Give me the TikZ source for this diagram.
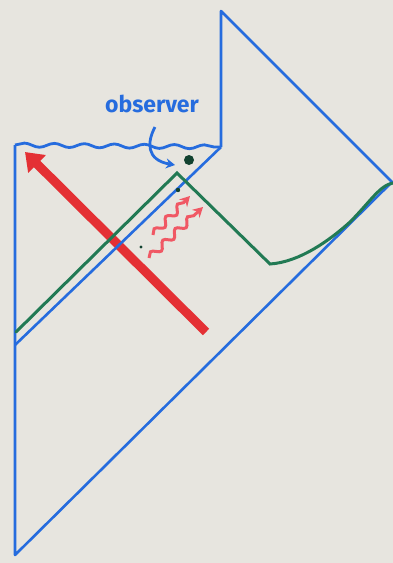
\documentclass[tikz,border=0pt]{standalone}
\usepackage{fontspec}
\setsansfont{Fira Sans}
\usepackage{tikz}
\usetikzlibrary{arrows.meta,positioning,decorations.pathmorphing}
\definecolor{paper}{RGB}{231,229,223}
\definecolor{ink}{RGB}{38,108,222}
\definecolor{leaf}{RGB}{34,122,84}
\definecolor{leafdark}{RGB}{18,66,48}
\definecolor{fire}{RGB}{228,48,52}
\definecolor{glow}{RGB}{240,88,100}
\tikzset{
  border/.style={draw=ink, line width=2.6pt, line join=round},
  wavy/.style={draw=ink, line width=2.8pt,
    decorate, decoration={snake, amplitude=2pt, segment length=30pt}},
  shell/.style={draw=leaf, line width=3pt, line cap=round},
  infall/.style={draw=fire, line width=9pt,
    -{Triangle[length=17pt,width=24pt]}},
  signal/.style={draw=glow, line width=3pt, -{Stealth[length=10pt,width=11pt]},
    decorate, decoration={snake, amplitude=3.5pt, segment length=17pt, post length=9pt}},
  pointer/.style={draw=ink, line width=2.8pt, -{Stealth[length=9pt,width=10pt]}},
  lbl/.style={text=ink, font=\sffamily\bfseries\fontsize{23}{23}\selectfont, inner sep=0pt}
}
\begin{document}
\begin{tikzpicture}[x=1pt, y=-1pt]
\fill[paper] (0,0) rectangle (393,563);
\useasboundingbox (0,0) rectangle (393,563);
% corners of the diagram
\coordinate (tl) at (15,145);
\coordinate (step) at (221,147);
\coordinate (top) at (221,11);
\coordinate (right) at (392,182);
\coordinate (bot) at (15,555);
\coordinate (mid) at (15,345);
% infalling matter
\draw[infall] (206,332) -- (25,152);
% outline
\draw[wavy] (tl) -- (step);
\draw[border] (step) -- (top) -- (right) -- (bot) -- (tl);
\draw[border] (step) -- (mid);
% shell
\coordinate (g0) at (16,332);
\coordinate (gtop) at (177,173);
\coordinate (gbot) at (270,264);
\coordinate (gend) at (393,183);
\draw[shell] (g0) -- (gtop) -- (gbot)
  .. controls (300,262) and (330,240) .. (350,222)
  .. controls (370,202) and (380,185) .. (gend);
% observer
\node[circle, fill=leafdark, inner sep=0pt, minimum size=10pt] (eye) at (189,160) {};
\node[lbl] (obs) at (152,104) {observer};
\coordinate (tip) at (175,165);
\draw[pointer] (155,127) .. controls (147,142) and (146,160) .. (tip);
% radiation
\draw[signal] (153,235) -- (190,196);
\draw[signal] (149,258) -- (203,207);
\fill[leafdark] (141,247) circle (1.6pt);
\fill[leafdark] (178,190) circle (2.2pt);
\end{tikzpicture}
\end{document}
